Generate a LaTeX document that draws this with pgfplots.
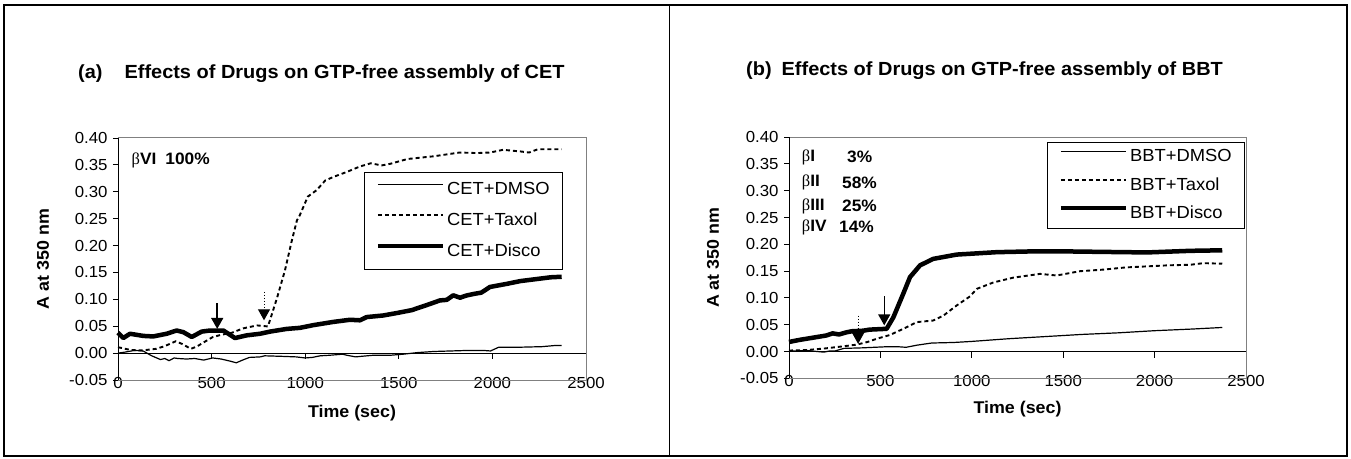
\documentclass[border=0pt]{standalone}
\usepackage{fontspec}
\setmainfont{Liberation Sans}[FakeStretch=1.05]
\newfontfamily\symb{Liberation Serif}
\usepackage{pgfplots}
\usepackage{pgfplotstable}
\pgfplotsset{compat=1.18}
\usetikzlibrary{arrows.meta}

% panel (a): CET
\pgfplotstableread{
t A
0 0.000
40 0.002
88 0.005
134 0.004
180 -0.005
227 -0.012
250 -0.010
273 -0.014
300 -0.009
319 -0.010
366 -0.011
410 -0.010
458 -0.013
505 -0.009
551 -0.011
600 -0.015
632 -0.018
665 -0.013
702 -0.008
760 -0.007
783 -0.005
875 -0.006
950 -0.007
1000 -0.009
1038 -0.008
1080 -0.005
1130 -0.004
1200 -0.002
1223 -0.004
1269 -0.007
1300 -0.006
1362 -0.004
1454 -0.004
1524 -0.002
1600 0.001
1686 0.003
1779 0.004
1871 0.005
1950 0.005
1990 0.004
2034 0.011
2100 0.011
2150 0.011
2265 0.012
2330 0.014
2370 0.014
}\cetdmso

\pgfplotstableread{
t A
0 0.011
65 0.006
130 0.005
204 0.008
250 0.013
308 0.022
343 0.017
389 0.008
420 0.012
458 0.020
507 0.030
551 0.034
609 0.038
668 0.046
743 0.0515
801 0.0496
849 0.102
892 0.154
929 0.210
956 0.247
968 0.254
1014 0.291
1061 0.303
1107 0.321
1153 0.328
1223 0.337
1292 0.347
1350 0.353
1408 0.349
1454 0.352
1547 0.361
1686 0.366
1825 0.373
1918 0.372
1987 0.373
2057 0.378
2150 0.375
2196 0.373
2242 0.379
2370 0.379
}\cettaxol

\pgfplotstableread{
t A
0 0.038
28 0.028
64 0.036
135 0.032
188 0.031
260 0.036
313 0.042
349 0.039
394 0.030
447 0.040
491 0.042
563 0.042
625 0.028
687 0.033
759 0.036
812 0.040
901 0.045
972 0.047
1043 0.052
1150 0.058
1239 0.062
1293 0.061
1328 0.067
1417 0.070
1497 0.075
1570 0.080
1663 0.091
1720 0.098
1756 0.099
1791 0.1075
1827 0.103
1860 0.107
1900 0.110
1941 0.1125
1987 0.123
2080 0.129
2150 0.134
2242 0.138
2312 0.141
2370 0.142
}\cetdisco

% panel (b): BBT
\pgfplotstableread{
t A
0 0.001
100 0.002
190 -0.001
220 0.001
250 0.001
300 0.006
400 0.007
530 0.009
600 0.009
640 0.008
700 0.012
780 0.016
900 0.017
1000 0.019
1200 0.024
1400 0.028
1500 0.030
1600 0.032
1800 0.035
2000 0.039
2200 0.042
2370 0.045
}\bbtdmso

\pgfplotstableread{
t A
0 0.002
100 0.003
200 0.006
300 0.010
370 0.013
430 0.018
480 0.024
552 0.031
625 0.0425
699 0.055
789 0.058
844 0.067
917 0.086
990 0.103
1027 0.117
1118 0.129
1227 0.138
1373 0.145
1464 0.142
1592 0.150
1721 0.153
1840 0.157
1958 0.159
2077 0.161
2195 0.162
2267 0.165
2370 0.164
}\bbttaxol

\pgfplotstableread{
t A
0 0.018
60 0.022
132 0.026
203 0.030
239 0.034
274 0.032
315 0.036
345 0.038
406 0.039
440 0.041
534 0.0425
571 0.064
625 0.108
662 0.139
717 0.161
789 0.173
917 0.181
1136 0.1855
1337 0.187
1500 0.187
1721 0.186
1958 0.185
2195 0.188
2370 0.189
}\bbtdisco

\pgfplotsset{
  panel/.style={
    scale only axis, anchor=south west,
    xmin=0, xmax=2500, ymin=-0.05, ymax=0.40,
    axis line style={draw=none},
    xtick={0,500,1000,1500,2000,2500},
    xticklabels={0,500,1000,1500,2000,2500},
    ytick={-0.05,0,0.05,0.1,0.15,0.2,0.25,0.3,0.35,0.4},
    yticklabels={-0.05,0.00,0.05,0.10,0.15,0.20,0.25,0.30,0.35,0.40},
    tick align=outside, xtick pos=bottom, ytick pos=left,
    xtick style={draw=none}, ytick style={black, line width=1pt},
    major tick length=5pt,
    ticklabel style={font=\fontsize{16}{16}\selectfont},
    xticklabel style={anchor=center, yshift=2pt},
    yticklabel style={anchor=east, xshift=-2pt},
    clip=false,
    every axis x label/.style={anchor=center, font=\bfseries\fontsize{17}{17}\selectfont},
    every axis y label/.style={anchor=center, rotate=90, font=\bfseries\fontsize{17}{17}\selectfont},
    xlabel={Time (sec)}, ylabel={A at 350 nm},
    legend cell align=left,
    legend image code/.code={\draw[##1] (0pt,6pt) -- (65pt,6pt);},
    legend style={anchor=north west, draw=black, line width=1.3pt, fill=white,
      font=\fontsize{17.5}{17.5}\selectfont, inner xsep=11pt,
      nodes={inner xsep=2pt, inner ysep=0pt, text height=13pt, text depth=4pt},
      column sep=0pt},
  },
  dmso/.style={black, line width=1.2pt, mark=none},
  taxol/.style={black, line width=1.9pt, dash pattern=on 4pt off 3pt, mark=none},
  disco/.style={black, line width=4.5pt, line join=round, mark=none},
}

\begin{document}
\begin{tikzpicture}[x=1pt,y=1pt]
\useasboundingbox (0,0) rectangle (1351,458);

\begin{axis}[panel, at={(118pt,78pt)}, width=468pt, height=242pt,
  xlabel style={at={(axis description cs:0.5,-0.1364)}},
  ylabel style={at={(axis description cs:-0.1603,0.5)}},
  legend style={at={(0.5256,0.8595)}, row sep=14pt, inner ysep=9pt}]
\addplot[dmso] table[x=t, y=A] {\cetdmso};
\addlegendentry{CET+DMSO}
\addplot[taxol] table[x=t, y=A] {\cettaxol};
\addlegendentry{CET+Taxol}
\addplot[disco] table[x=t, y=A] {\cetdisco};
\addlegendentry{CET+Disco}
\draw[black, line width=1pt] (axis cs:0,0) -- (axis cs:2500,0);
\pgfplotsinvokeforeach{0,500,1000,1500,2000,2500}{
  \draw[black, line width=1pt] (axis cs:#1,0) -- ++(0pt,-6pt);}
\draw[line width=1.5pt, -{Triangle[length=11pt, width=12pt]}] (axis cs:530,0.093) -- (axis cs:530,0.045);
\draw[line width=1pt, dotted, -{Triangle[length=11pt, width=12pt]}] (axis cs:780,0.114) -- (axis cs:780,0.061);
\end{axis}

\begin{axis}[panel, at={(789pt,79.6pt)}, width=457pt, height=241.2pt,
  xlabel style={at={(axis description cs:0.5,-0.1269)}},
  ylabel style={at={(axis description cs:-0.1663,0.5)}},
  legend style={at={(0.5646,0.980)}, row sep=11.5pt, inner ysep=6pt}]
\addplot[dmso] table[x=t, y=A] {\bbtdmso};
\addlegendentry{BBT+DMSO}
\addplot[taxol] table[x=t, y=A] {\bbttaxol};
\addlegendentry{BBT+Taxol}
\addplot[disco] table[x=t, y=A] {\bbtdisco};
\addlegendentry{BBT+Disco}
\draw[black, line width=1pt] (axis cs:0,0) -- (axis cs:2500,0);
\pgfplotsinvokeforeach{0,500,1000,1500,2000,2500}{
  \draw[black, line width=1pt] (axis cs:#1,0) -- ++(0pt,-6pt);}
\draw[line width=1.5pt, -{Triangle[length=11pt, width=12pt]}] (axis cs:521,0.103) -- (axis cs:521,0.049);
\draw[line width=1pt, dotted, -{Triangle[length=11pt, width=12pt]}] (axis cs:378,0.067) -- (axis cs:378,0.0145);
\end{axis}

% plot area frames (gray) and value axes (black)
\draw[gray, line width=1pt] (118,320) -- (586,320) -- (586,78) -- (118,78);
\draw[black, line width=1pt] (118,78) -- (118,320);
\draw[gray, line width=1pt] (789,320.8) -- (1246,320.8) -- (1246,79.6) -- (789,79.6);
\draw[black, line width=1pt] (789,79.6) -- (789,320.8);

% titles
\node[anchor=west, inner sep=0pt, font=\bfseries\fontsize{19}{19}\selectfont] at (78,384)
  {(a)\hspace{22pt}Effects of Drugs on GTP-free assembly of CET};
\node[anchor=west, inner sep=0pt, font=\bfseries\fontsize{19}{19}\selectfont] at (746,387)
  {(b)\hspace{10pt}Effects of Drugs on GTP-free assembly of BBT};

% isotype annotations
\begin{scope}[every node/.style={anchor=west, inner sep=0pt, font=\bfseries\fontsize{16.5}{16.5}\selectfont}]
\node at (131.5,297.3) {{\symb\mdseries β}VI\hspace{9pt}100\%};
\node at (801.7,300.7) {{\symb\mdseries β}I};
\node at (801.7,275.3) {{\symb\mdseries β}II};
\node at (801.7,252) {{\symb\mdseries β}III};
\node at (801.7,230.7) {{\symb\mdseries β}IV};
\node at (847,300.7) {3\%};
\node at (842,275.3) {58\%};
\node at (842,252) {25\%};
\node at (839,230.7) {14\%};
\end{scope}

% outer frame
\draw[black, line width=1.3pt] (4,2) rectangle (1347,453);
\draw[black, line width=1.3pt] (669.5,2) -- (669.5,453);
\end{tikzpicture}
\end{document}
